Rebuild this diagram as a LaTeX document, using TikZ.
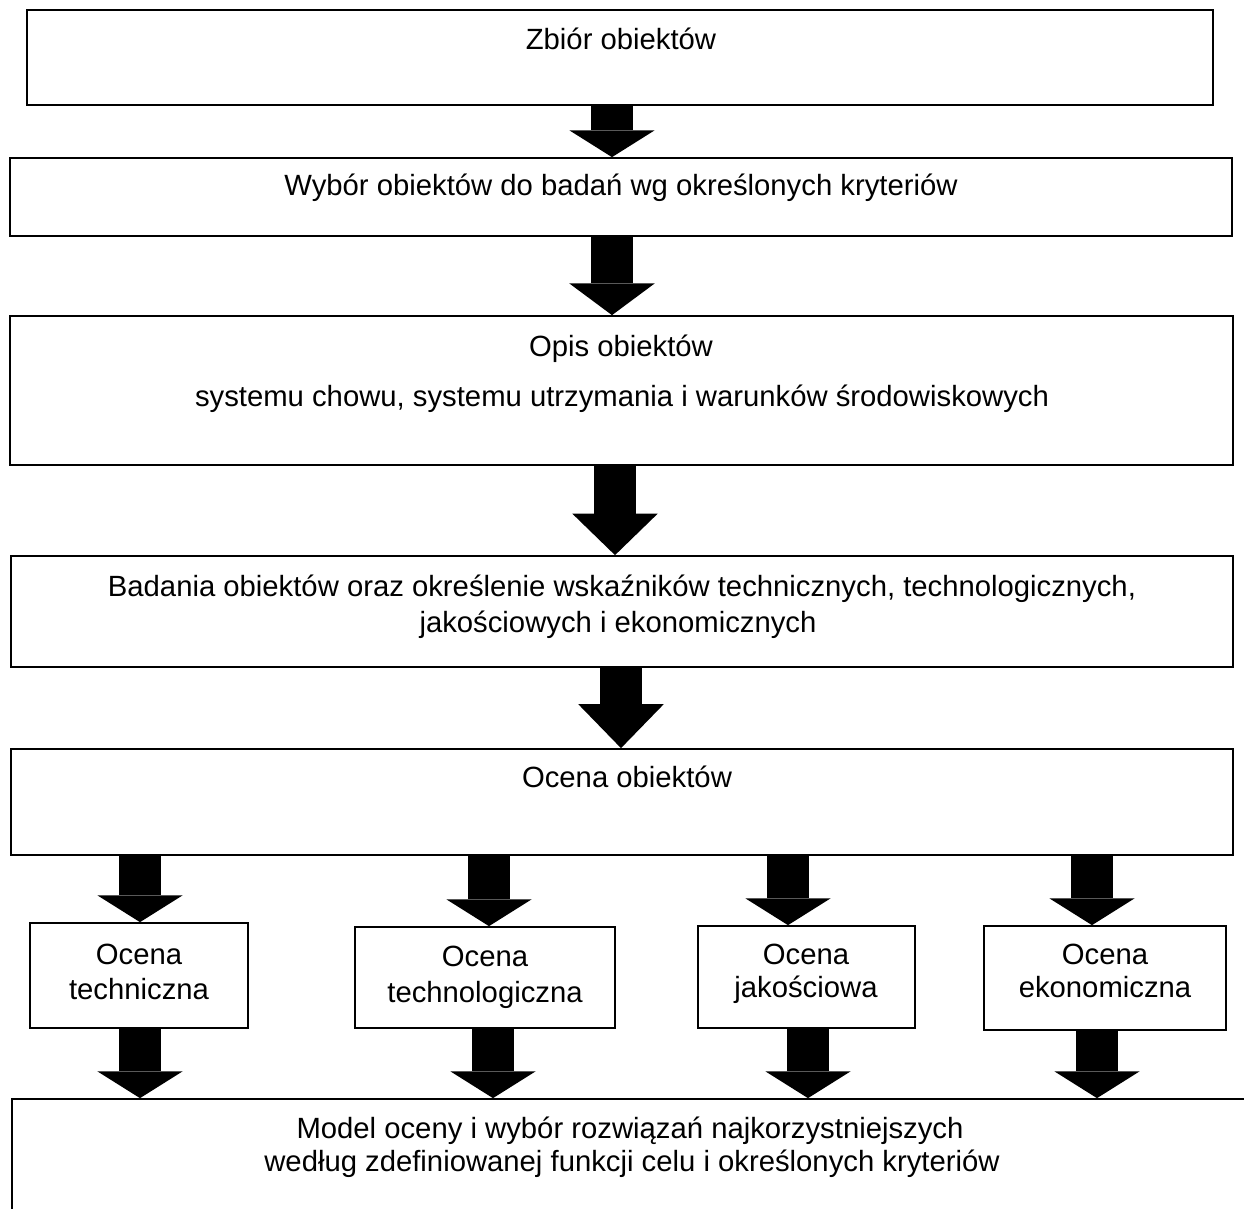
\documentclass[tikz,border=0pt]{standalone}
\usepackage{fontspec}
\setmainfont{Liberation Sans}
\usetikzlibrary{arrows.meta,fit}

\tikzset{
	ramka/.style={draw, line width=0.7pt, inner sep=0pt},
	napis/.style={anchor=base, inner sep=0pt, font=\fontsize{12}{14.4}\selectfont},
	strzalka/.style={line width=17pt, -{Triangle[length=#1, width=35pt, line width=0pt]}},
	strzalka/.default=11pt
}

\begin{document}
\begin{tikzpicture}[x=0.41pt, y=-0.41pt]
	\useasboundingbox (0,0) rectangle (1244,1209);
	
	% glowne ramki
	\node[ramka, fit={(27,10) (1213,105)}] (zbior) {};
	\node[ramka, fit={(10,158) (1232,236)}] (wybor) {};
	\node[ramka, fit={(10,316) (1233,465)}] (opis) {};
	\node[ramka, fit={(11,556) (1233,667)}] (badania) {};
	\node[ramka, fit={(11,749) (1233,855)}] (ocena) {};
	
	% cztery oceny
	\node[ramka, fit={(30,923) (248,1028)}] (tech) {};
	\node[ramka, fit={(355,927) (615,1028)}] (technol) {};
	\node[ramka, fit={(698,926) (915,1028)}] (jakosc) {};
	\node[ramka, fit={(984,926) (1226,1030)}] (ekon) {};
	
	% model (ucieta u dolu)
	\node[ramka, fit={(12,1099) (1256,1270)}] (model) {};
	
	% napisy
	\node[napis] (zbiorT) at (621,50) {Zbiór obiektów};
	\node[napis] (wyborT) at (621,196) {Wybór obiektów do badań wg określonych kryteriów};
	\node[napis] (opisT1) at (621,357) {Opis obiektów};
	\node[napis] (opisT2) at (622,407) {systemu chowu, systemu utrzymania i warunków środowiskowych};
	\node[napis] (badaniaT1) at (622,597) {Badania obiektów oraz określenie wskaźników technicznych, technologicznych,};
	\node[napis] (badaniaT2) at (618,632) {jakościowych i ekonomicznych};
	\node[napis] (ocenaT) at (627,787) {Ocena obiektów};
	
	\node[napis] (techT1) at (139,964) {Ocena};
	\node[napis] (techT2) at (139,999) {techniczna};
	\node[napis] (technolT1) at (485,966) {Ocena};
	\node[napis] (technolT2) at (485,1002) {technologiczna};
	\node[napis] (jakoscT1) at (806,964) {Ocena};
	\node[napis] (jakoscT2) at (806,997) {jakościowa};
	\node[napis] (ekonT1) at (1105,964) {Ocena};
	\node[napis] (ekonT2) at (1105,997) {ekonomiczna};
	
	\node[napis] (modelT1) at (630,1138) {Model oceny i wybór rozwiązań najkorzystniejszych};
	\node[napis] (modelT2) at (632,1171) {według zdefiniowanej funkcji celu i określonych kryteriów};
	
	% osie strzalek
	\coordinate (k1) at (612,0);
	\coordinate (k2) at (615,0);
	\coordinate (k3) at (621,0);
	\coordinate (a1) at (140,0);
	\coordinate (a2) at (489,0);
	\coordinate (a3) at (788,0);
	\coordinate (a4) at (1092,0);
	\coordinate (b1) at (140,0);
	\coordinate (b2) at (493,0);
	\coordinate (b3) at (808,0);
	\coordinate (b4) at (1097,0);
	
	% strzalki pionowe
	\draw[strzalka=11pt] (zbior.south -| k1) -- (wybor.north -| k1);
	\draw[strzalka=13pt] (wybor.south -| k1) -- (opis.north -| k1);
	\draw[strzalka=17pt] (opis.south -| k2) -- (badania.north -| k2);
	\draw[strzalka=18pt] (badania.south -| k3) -- (ocena.north -| k3);
	
	% do ocen
	\draw[strzalka] (ocena.south -| a1) -- (tech.north -| a1);
	\draw[strzalka] (ocena.south -| a2) -- (technol.north -| a2);
	\draw[strzalka] (ocena.south -| a3) -- (jakosc.north -| a3);
	\draw[strzalka] (ocena.south -| a4) -- (ekon.north -| a4);
	
	% do modelu
	\draw[strzalka] (tech.south -| b1) -- (model.north -| b1);
	\draw[strzalka] (technol.south -| b2) -- (model.north -| b2);
	\draw[strzalka] (jakosc.south -| b3) -- (model.north -| b3);
	\draw[strzalka] (ekon.south -| b4) -- (model.north -| b4);
\end{tikzpicture}
\end{document}
